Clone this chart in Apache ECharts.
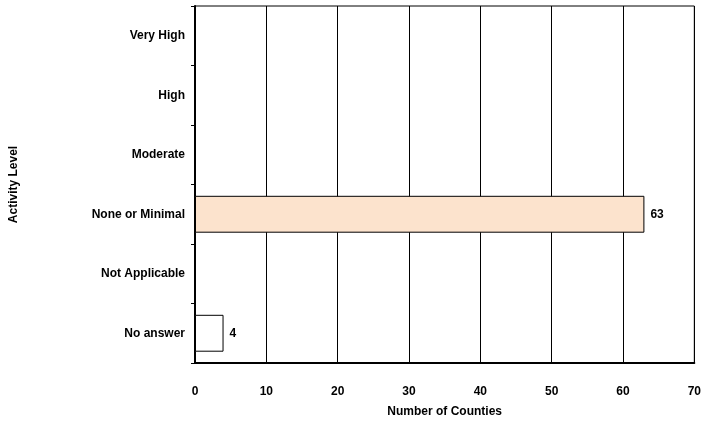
<!DOCTYPE html>
<html>
<head>
<meta charset="utf-8">
<script src="https://cdn.jsdelivr.net/npm/echarts@6/dist/echarts.min.js"></script>
<style>body{margin:0;background:#fff}#c{width:704px;height:423px}</style>
</head>
<body>
<div id="c"></div>
<script>
const categories = ['No answer', 'Not Applicable', 'None or Minimal', 'Moderate', 'High', 'Very High'];
const counts = [4, null, 63, null, null, null];
const barColors = ['#ffffff', '#fce3cd', '#fce3cd', '#fce3cd', '#fce3cd', '#fce3cd'];

const chart = echarts.init(document.getElementById('c'));
const font = 'Arial, "Liberation Sans", sans-serif';
chart.setOption({
    animation: false,
    grid: { left: 192, right: 6, top: 6, bottom: 51, show: true, borderColor: '#000', borderWidth: 1 },
    xAxis: {
        type: 'value', min: 0, max: 70, interval: 10,
        name: 'Number of Counties', nameLocation: 'middle', nameGap: 43,
        nameTextStyle: { fontFamily: font, fontWeight: 'bold', fontSize: 12, color: '#000' },
        axisLine: { show: true, lineStyle: { color: '#000', width: 2 } },
        axisTick: { show: true, length: 4, inside: true, lineStyle: { color: '#000' } },
        axisLabel: { fontFamily: font, fontWeight: 'bold', fontSize: 12, color: '#000', margin: 23 },
        splitLine: { show: true, lineStyle: { color: '#000', width: 1 } }
    },
    yAxis: {
        type: 'category', data: categories,
        name: 'Activity Level', nameLocation: 'middle', nameGap: 175, nameRotate: 90,
        nameTextStyle: { fontFamily: font, fontWeight: 'bold', fontSize: 12, color: '#000' },
        axisLine: { show: true, lineStyle: { color: '#000', width: 2 } },
        axisTick: { show: true, length: 4, lineStyle: { color: '#000' } },
        axisLabel: { fontFamily: font, fontWeight: 'bold', fontSize: 12, color: '#000', margin: 10 }
    },
    series: [{
        type: 'bar', barWidth: '62%',
        data: counts.map((v, i) => ({ value: v, itemStyle: { color: barColors[i] } })),
        itemStyle: { borderColor: '#000', borderWidth: 1 },
        label: { show: true, position: 'right', fontFamily: font, fontWeight: 'bold', fontSize: 12, color: '#000', distance: 6 }
    }]
});
</script>
</body>
</html>
